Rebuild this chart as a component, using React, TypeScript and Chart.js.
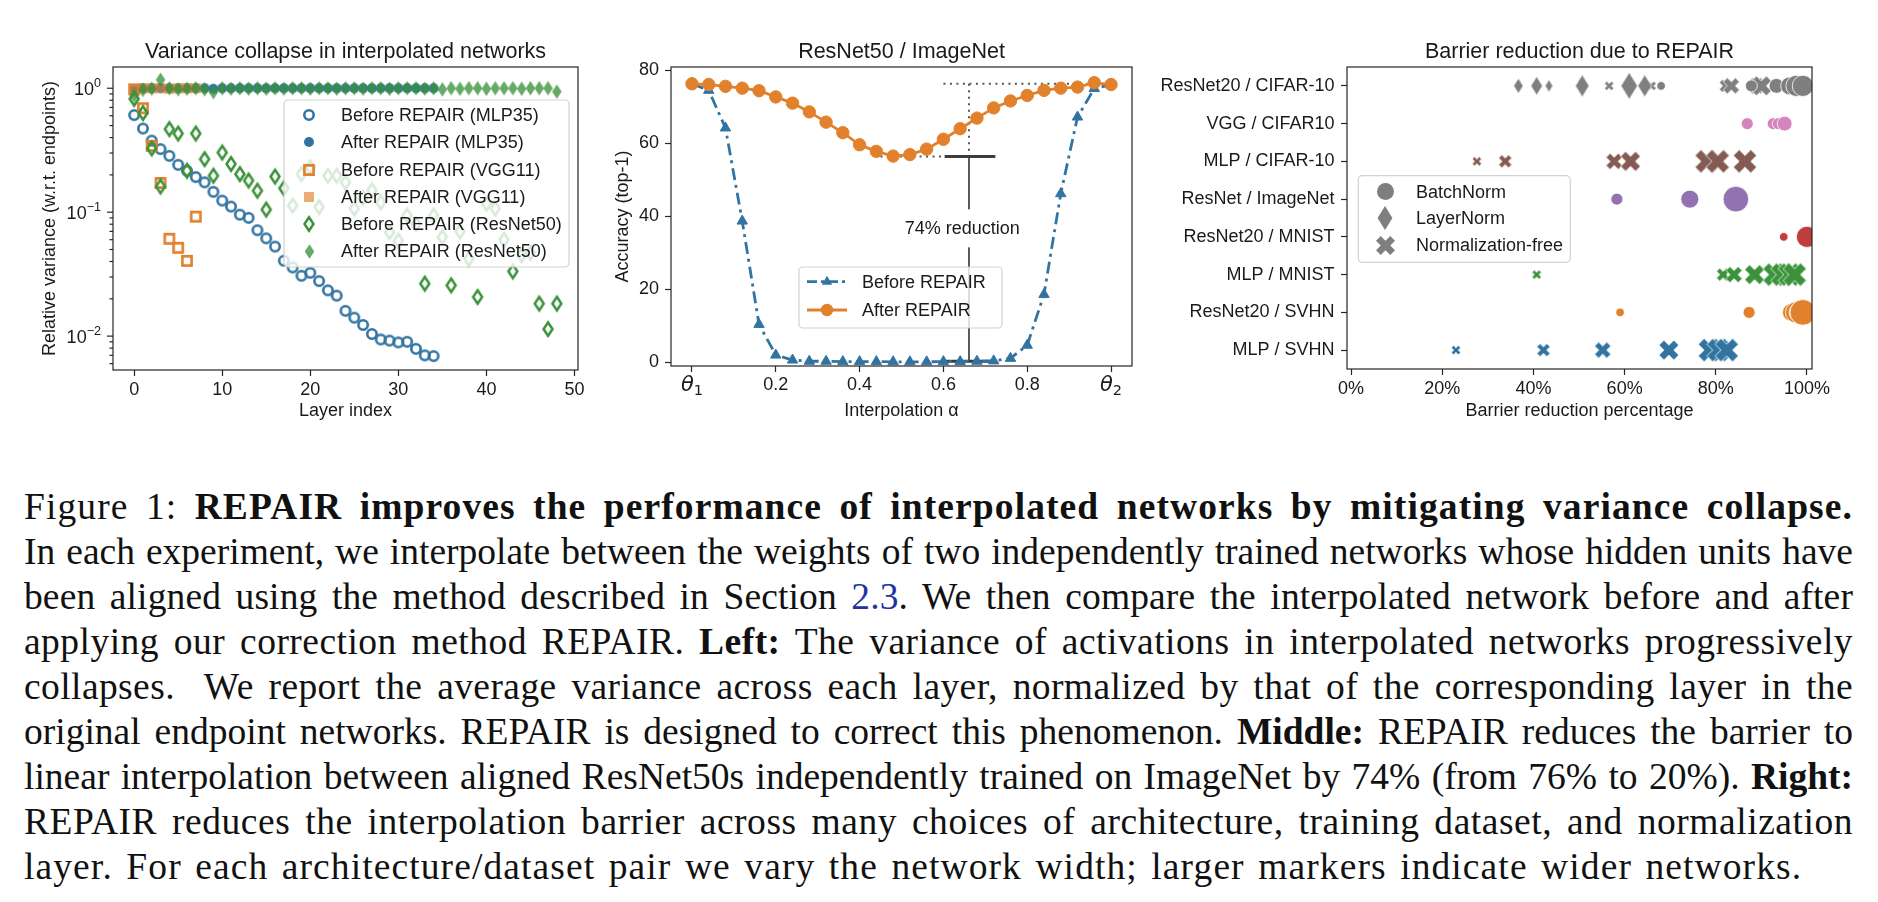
import React, { useEffect, useLayoutEffect, useRef } from "react";
import { Chart, registerables } from "chart.js";

Chart.register(...registerables);

const SANS = '"Liberation Sans", Arial, Helvetica, sans-serif';
const TXT = "#1a1a1a";
const SPINE = "#262626";
const BLUE = "#3274a1";
const ORANGE = "#e1812c";
const GREEN = "#3a923a";

// ---------------- Left panel: variance collapse ----------------
const mlpLayers = [0, 1, 2, 3, 4, 5, 6, 7, 8, 9, 10, 11, 12, 13, 14, 15, 16, 17, 18, 19, 20, 21, 22, 23, 24, 25, 26, 27, 28, 29, 30, 31, 32, 33, 34];
const mlpBefore = [
  0.607, 0.473, 0.378, 0.323, 0.285, 0.241, 0.216, 0.192, 0.174, 0.146,
  0.124, 0.111, 0.0955, 0.09, 0.0715, 0.0615, 0.0528, 0.0406, 0.0358, 0.0307,
  0.0324, 0.0278, 0.0234, 0.0212, 0.016, 0.0141, 0.0123, 0.0104, 0.0094, 0.0092,
  0.0089, 0.009, 0.0079, 0.007, 0.0069,
];
const mlpAfter = [
  0.97, 1.0, 1.0, 1.0, 1.0, 1.0, 1.0, 1.0, 1.0, 0.99,
  1.0, 1.0, 1.0, 1.0, 1.0, 1.0, 1.0, 1.0, 1.0, 1.0,
  1.0, 1.0, 1.0, 1.0, 1.0, 1.0, 1.0, 1.0, 1.0, 1.0,
  1.0, 1.0, 1.0, 1.0, 1.0,
];
const vggLayers = [0, 1, 2, 3, 4, 5, 6, 7];
const vggBefore = [0.98, 0.69, 0.343, 0.172, 0.061, 0.0516, 0.0405, 0.092];
const vggAfter = [0.98, 1.0, 1.0, 1.0, 0.99, 1.0, 1.0, 1.0];
const resnetLayers = [
  0, 1, 2, 3, 4, 5, 6, 7, 8, 9, 10, 11, 12, 13, 14, 15, 16, 17, 18, 19, 20, 21, 22, 23, 24,
  25, 26, 27, 28, 29, 30, 31, 32, 33, 34, 35, 36, 37, 38, 39, 40, 41, 42, 43, 44, 45, 46, 47, 48,
];
const resnetBefore = [
  0.82, 0.63, 0.327, 0.161, 0.468, 0.431, 0.216, 0.431, 0.268, 0.197,
  0.303, 0.245, 0.203, 0.18, 0.149, 0.105, 0.194, 0.156, 0.113, 0.203,
  0.23, 0.11, 0.197, 0.197, 0.174, 0.107, 0.13, 0.15, 0.12, 0.069,
  0.059, 0.094, 0.08, 0.0265, 0.094, 0.063, 0.0257, 0.07, 0.042, 0.0207,
  0.117, 0.107, 0.06, 0.0333, 0.045, 0.047, 0.0183, 0.0114, 0.0183,
];
const resnetAfter = [
  0.87, 0.97, 0.99, 1.17, 1.0, 0.98, 0.99, 1.0, 0.98, 0.93,
  1.0, 0.99, 1.0, 0.99, 1.0, 0.99, 1.0, 0.99, 1.0, 1.0,
  0.99, 1.0, 1.0, 0.99, 1.0, 1.0, 0.99, 1.0, 1.0, 0.99,
  1.0, 1.0, 1.0, 0.99, 1.0, 0.98, 1.0, 0.99, 1.0, 1.0,
  0.99, 1.0, 1.0, 1.0, 0.99, 1.0, 1.0, 1.0, 0.94,
];
const layerTicks = [0, 10, 20, 30, 40, 50];
const logMajorTicks = [0.01, 0.1, 1];
const logMajorLabels = [["10", "\u22122"], ["10", "\u22121"], ["10", "0"]];
const logMinorTicks = [
  0.006, 0.007, 0.008, 0.009,
  0.02, 0.03, 0.04, 0.05, 0.06, 0.07, 0.08, 0.09,
  0.2, 0.3, 0.4, 0.5, 0.6, 0.7, 0.8, 0.9,
];
const leftLegendLabels = [
  "Before REPAIR (MLP35)",
  "After REPAIR (MLP35)",
  "Before REPAIR (VGG11)",
  "After REPAIR (VGG11)",
  "Before REPAIR (ResNet50)",
  "After REPAIR (ResNet50)",
];

// ---------------- Middle panel: ResNet50 / ImageNet ----------------
const alphaSteps = [
  0, 0.04, 0.08, 0.12, 0.16, 0.2, 0.24, 0.28, 0.32, 0.36, 0.4, 0.44, 0.48,
  0.52, 0.56, 0.6, 0.64, 0.68, 0.72, 0.76, 0.8, 0.84, 0.88, 0.92, 0.96, 1.0,
];
const accBefore = [
  76.3, 74.5, 64.2, 38.7, 10.4, 2.0, 0.63, 0.3, 0.3, 0.2, 0.2, 0.2, 0.15,
  0.15, 0.15, 0.2, 0.2, 0.3, 0.4, 1.1, 4.7, 18.6, 46.2, 67.2, 75.0, 76.1,
];
const accAfter = [
  76.3, 76.1, 75.6, 75.1, 74.4, 72.7, 71.0, 68.6, 65.8, 62.9, 59.6, 57.8, 56.5,
  56.9, 58.4, 61.1, 64.0, 66.9, 69.7, 71.6, 73.1, 74.5, 75.1, 75.4, 76.6, 76.1,
];
const accTicks = [0, 20, 40, 60, 80];
const alphaTicks = [0, 0.2, 0.4, 0.6, 0.8, 1.0];
const endpointAcc = 76.3;
const repairMinAcc = 56.4;
const naiveMinAcc = 0.3;
const barrierAlpha = 0.661;
const barrierLabel = "74% reduction";

// ---------------- Right panel: barrier reduction ----------------
const rowLabels = [
  "ResNet20 / CIFAR-10",
  "VGG / CIFAR10",
  "MLP / CIFAR-10",
  "ResNet / ImageNet",
  "ResNet20 / MNIST",
  "MLP / MNIST",
  "ResNet20 / SVHN",
  "MLP / SVHN",
];
const rowColors = ["#7f7f7f", "#d684bd", "#845b53", "#9372b2", "#c03d3e", "#3a923a", "#e1812c", "#3274a1"];
// [barrier reduction %, width level]
const resnet20Cifar10BatchNorm = [[68.0, 1], [87.8, 2], [93.3, 3], [96.2, 4], [97.7, 5], [99.1, 5]];
const resnet20Cifar10LayerNorm = [[36.7, 3], [40.7, 4], [43.4, 2], [50.7, 5], [61.0, 6], [64.4, 5]];
const resnet20Cifar10NormFree = [[56.6, 1], [65.9, 1], [82.2, 2], [83.4, 3], [88.9, 3], [90.0, 4]];
const vggCifar10BatchNorm = [[86.9, 2], [92.6, 2], [93.7, 2], [95.1, 3]];
const mlpCifar10NormFree = [[27.6, 1], [33.8, 2], [57.7, 3], [61.3, 4], [78.0, 5], [80.4, 5], [86.4, 5]];
const resnetImageNetBatchNorm = [[58.3, 2], [74.3, 4], [84.4, 6]];
const resnet20MnistBatchNorm = [[94.9, 1], [100.0, 5]];
const mlpMnistNormFree = [[40.7, 1], [81.6, 2], [84.0, 3], [88.5, 4], [92.9, 5], [94.6, 5], [96.2, 5], [97.3, 5]];
const resnet20SvhnBatchNorm = [[59.0, 1], [87.3, 2], [96.6, 4], [97.6, 5], [98.4, 5], [99.1, 6]];
const mlpSvhnNormFree = [[23.0, 1], [42.2, 2], [55.2, 3], [69.7, 4], [78.7, 5], [80.6, 5], [82.4, 5]];
const pctTicks = [0, 20, 40, 60, 80, 100];
const rowTicks = [0, 1, 2, 3, 4, 5, 6, 7];
const normLegend = ["BatchNorm", "LayerNorm", "Normalization-free"];

// ---------------- helpers ----------------
const LEVEL_R = [0, 4.3, 6.0, 7.4, 9.0, 10.6, 12.8];
const markerCache = new Map<string, HTMLCanvasElement>();

function markerImg(kind: string, r: number, fill: string | null, stroke: string | null, lw: number, ratio = 0.62): HTMLCanvasElement {
  const key = [kind, r, fill, stroke, lw, ratio].join("|");
  const hit = markerCache.get(key);
  if (hit) return hit;
  const pad = Math.ceil(lw) + 2;
  const size = Math.ceil(2 * r + 2 * pad);
  const c = document.createElement("canvas");
  c.width = size;
  c.height = size;
  const g = c.getContext("2d")!;
  const cx = size / 2;
  const cy = size / 2;
  g.beginPath();
  if (kind === "circle") {
    g.arc(cx, cy, r, 0, Math.PI * 2);
  } else if (kind === "square") {
    g.rect(cx - r, cy - r, 2 * r, 2 * r);
  } else if (kind === "diamond") {
    const w = r * ratio;
    g.moveTo(cx, cy - r);
    g.lineTo(cx + w, cy);
    g.lineTo(cx, cy + r);
    g.lineTo(cx - w, cy);
    g.closePath();
  } else {
    const pts = [[-1, -2], [0, -1], [1, -2], [2, -1], [1, 0], [2, 1], [1, 2], [0, 1], [-1, 2], [-2, 1], [-1, 0], [-2, -1]];
    pts.forEach(([px, py], i) => {
      const X = cx + (px * r) / 2;
      const Y = cy + (py * r) / 2;
      if (i === 0) g.moveTo(X, Y);
      else g.lineTo(X, Y);
    });
    g.closePath();
  }
  if (fill) {
    g.fillStyle = fill;
    g.fill();
  }
  if (stroke && lw > 0) {
    g.strokeStyle = stroke;
    g.lineWidth = lw;
    g.lineJoin = "miter";
    g.stroke();
  }
  markerCache.set(key, c);
  return c;
}

function legendBox(ctx: any, x: number, y: number, w: number, h: number) {
  ctx.save();
  ctx.beginPath();
  if (ctx.roundRect) ctx.roundRect(x, y, w, h, 4);
  else ctx.rect(x, y, w, h);
  ctx.fillStyle = "rgba(255,255,255,0.8)";
  ctx.fill();
  ctx.strokeStyle = "rgba(204,204,204,0.9)";
  ctx.lineWidth = 1.2;
  ctx.stroke();
  ctx.restore();
}

function drawFrameAndTitle(chart: any, title: string) {
  const { ctx, chartArea: a } = chart;
  ctx.save();
  ctx.strokeStyle = SPINE;
  ctx.lineWidth = 1.2;
  ctx.strokeRect(a.left, a.top, a.right - a.left, a.bottom - a.top);
  ctx.font = `21.5px ${SANS}`;
  ctx.fillStyle = TXT;
  ctx.textAlign = "center";
  ctx.textBaseline = "middle";
  ctx.fillText(title, (a.left + a.right) / 2, 52);
  ctx.restore();
}

const tickFont = { family: SANS, size: 18 };
const axisGrid = {
  display: true,
  drawOnChartArea: false,
  drawTicks: true,
  tickLength: 6,
  tickColor: SPINE,
  tickWidth: 1.2,
  color: SPINE,
};
const toXY = (xs: number[], ys: number[]) => xs.map((x, i) => ({ x, y: ys[i] }));
const setTicks = (vals: number[]) => (s: any) => {
  s.ticks = vals.map((v) => ({ value: v }));
};

// ---------------- Left config ----------------
function leftConfig(): any {
  const mOpenCircle = markerImg("circle", 4.7, null, BLUE, 2.6);
  const mFillCircle = markerImg("circle", 5.0, BLUE, null, 0);
  const mOpenSquare = markerImg("square", 4.6, null, ORANGE, 2.6);
  const mFillSquare = markerImg("square", 5.0, "rgba(225,129,44,0.65)", null, 0);
  const mOpenDiamond = markerImg("diamond", 6.8, null, GREEN, 2.5, 0.66);
  const mFillDiamond = markerImg("diamond", 7.2, "rgba(58,146,58,0.78)", null, 0, 0.66);
  const legendMarkers = [mOpenCircle, mFillCircle, mOpenSquare, mFillSquare, mOpenDiamond, mFillDiamond];

  const plugin = {
    id: "leftDecor",
    afterDatasetsDraw(chart: any) {
      const { ctx, chartArea: a, scales } = chart;
      const y = scales.y;
      drawFrameAndTitle(chart, "Variance collapse in interpolated networks");
      ctx.save();
      ctx.strokeStyle = SPINE;
      ctx.lineWidth = 1.2;
      for (const v of logMinorTicks) {
        const p = y.getPixelForValue(v);
        if (p < a.top || p > a.bottom) continue;
        ctx.beginPath();
        ctx.moveTo(a.left - 3.5, p);
        ctx.lineTo(a.left, p);
        ctx.stroke();
      }
      logMajorTicks.forEach((v, i) => {
        const p = y.getPixelForValue(v);
        ctx.beginPath();
        ctx.moveTo(a.left - 6, p);
        ctx.lineTo(a.left, p);
        ctx.stroke();
        const [base, exp] = logMajorLabels[i];
        ctx.font = `18px ${SANS}`;
        const wb = ctx.measureText(base).width;
        ctx.font = `12.6px ${SANS}`;
        const we = ctx.measureText(exp).width;
        const right = a.left - 12;
        ctx.fillStyle = TXT;
        ctx.textAlign = "left";
        ctx.textBaseline = "alphabetic";
        ctx.font = `18px ${SANS}`;
        ctx.fillText(base, right - we - wb, p + 6.8);
        ctx.font = `12.6px ${SANS}`;
        ctx.fillText(exp, right - we, p - 1.5);
      });
      ctx.restore();

      legendBox(ctx, 284, 100, 285, 167);
      ctx.save();
      ctx.font = `18px ${SANS}`;
      ctx.fillStyle = TXT;
      ctx.textAlign = "left";
      ctx.textBaseline = "middle";
      leftLegendLabels.forEach((lab, i) => {
        const yy = 115 + i * 27.3;
        const m = legendMarkers[i];
        ctx.drawImage(m, Math.round(309 - m.width / 2), Math.round(yy - m.height / 2));
        ctx.fillText(lab, 341, yy + 1);
      });
      ctx.restore();
    },
  };

  return {
    type: "scatter",
    data: {
      datasets: [
        { label: leftLegendLabels[0], data: toXY(mlpLayers, mlpBefore), pointStyle: mOpenCircle, pointRadius: 4, order: 6 },
        { label: leftLegendLabels[1], data: toXY(mlpLayers, mlpAfter), pointStyle: mFillCircle, pointRadius: 4, order: 5 },
        { label: leftLegendLabels[2], data: toXY(vggLayers, vggBefore), pointStyle: mOpenSquare, pointRadius: 4, order: 4 },
        { label: leftLegendLabels[3], data: toXY(vggLayers, vggAfter), pointStyle: mFillSquare, pointRadius: 4, order: 3 },
        { label: leftLegendLabels[4], data: toXY(resnetLayers, resnetBefore), pointStyle: mOpenDiamond, pointRadius: 4, order: 2 },
        { label: leftLegendLabels[5], data: toXY(resnetLayers, resnetAfter), pointStyle: mFillDiamond, pointRadius: 4, order: 1 },
      ],
    },
    options: {
      responsive: false,
      animation: false,
      devicePixelRatio: 1,
      events: [],
      layout: { autoPadding: false, padding: { left: 0, top: 67, right: 22, bottom: 0 } },
      plugins: { legend: { display: false }, tooltip: { enabled: false } },
      scales: {
        x: {
          type: "linear",
          min: -2.4,
          max: 50.4,
          bounds: "data",
          afterBuildTicks: setTicks(layerTicks),
          afterFit: (s: any) => {
            s.height = 70;
          },
          ticks: { font: tickFont, color: TXT, padding: 3, maxRotation: 0, autoSkip: false },
          grid: axisGrid,
          border: { display: false },
          title: { display: true, text: "Layer index", font: tickFont, color: TXT, padding: { top: 0, bottom: 18 } },
        },
        y: {
          type: "logarithmic",
          min: 0.00533,
          max: 1.484,
          bounds: "data",
          afterFit: (s: any) => {
            s.width = 113;
          },
          ticks: { display: false },
          grid: { display: false },
          border: { display: false },
          title: {
            display: true,
            text: "Relative variance (w.r.t. endpoints)",
            font: tickFont,
            color: TXT,
            padding: { top: 39, bottom: 0 },
          },
        },
      },
    },
    plugins: [plugin],
  };
}

// ---------------- Middle config ----------------
function midConfig(): any {
  const plugin = {
    id: "midDecor",
    beforeDatasetsDraw(chart: any) {
      const { ctx, scales } = chart;
      const X = (v: number) => scales.x.getPixelForValue(v);
      const Y = (v: number) => scales.y.getPixelForValue(v);
      ctx.save();
      ctx.setLineDash([2, 4.5]);
      ctx.strokeStyle = "#555555";
      ctx.lineWidth = 2;
      ctx.beginPath();
      ctx.moveTo(X(0.6), Y(endpointAcc));
      ctx.lineTo(X(1.0), Y(endpointAcc));
      ctx.moveTo(X(barrierAlpha), Y(endpointAcc));
      ctx.lineTo(X(barrierAlpha), Y(repairMinAcc));
      ctx.moveTo(X(0.45), Y(repairMinAcc));
      ctx.lineTo(X(0.6), Y(repairMinAcc));
      ctx.stroke();
      ctx.setLineDash([]);
      ctx.strokeStyle = "#4a4a4a";
      ctx.lineWidth = 1.8;
      ctx.beginPath();
      ctx.moveTo(X(barrierAlpha), Y(repairMinAcc));
      ctx.lineTo(X(barrierAlpha), Y(naiveMinAcc));
      ctx.stroke();
      ctx.strokeStyle = "#3d3d3d";
      ctx.lineWidth = 3;
      ctx.beginPath();
      ctx.moveTo(X(barrierAlpha - 0.058), Y(repairMinAcc));
      ctx.lineTo(X(barrierAlpha + 0.063), Y(repairMinAcc));
      ctx.moveTo(X(barrierAlpha - 0.058), Y(naiveMinAcc));
      ctx.lineTo(X(barrierAlpha + 0.063), Y(naiveMinAcc));
      ctx.stroke();
      ctx.font = `18px ${SANS}`;
      const tw = ctx.measureText(barrierLabel).width;
      const cx = X(0.645);
      const cy = Y(36.7);
      ctx.fillStyle = "#ffffff";
      ctx.fillRect(cx - tw / 2 - 6, cy - 19, tw + 12, 38);
      ctx.fillStyle = TXT;
      ctx.textAlign = "center";
      ctx.textBaseline = "middle";
      ctx.fillText(barrierLabel, cx, cy + 1);
      ctx.restore();
    },
    afterDatasetsDraw(chart: any) {
      const { ctx, scales } = chart;
      drawFrameAndTitle(chart, "ResNet50 / ImageNet");
      ctx.save();
      ctx.fillStyle = TXT;
      ctx.textAlign = "left";
      ctx.textBaseline = "alphabetic";
      [[0, "1"], [1, "2"]].forEach(([v, sub]: any) => {
        const px = scales.x.getPixelForValue(v);
        ctx.font = `italic 21px "DejaVu Sans", ${SANS}`;
        const wt = ctx.measureText("\u03b8").width;
        ctx.font = `14.5px "DejaVu Sans", ${SANS}`;
        const ws = ctx.measureText(sub).width;
        const start = px - (wt + ws) / 2;
        ctx.font = `italic 21px "DejaVu Sans", ${SANS}`;
        ctx.fillText("\u03b8", start, 391);
        ctx.font = `14.5px "DejaVu Sans", ${SANS}`;
        ctx.fillText(sub, start + wt, 395);
      });
      ctx.restore();
      legendBox(ctx, 199, 267, 203, 61);
      ctx.save();
      const rows = [
        { y: 281.7, color: BLUE, dash: [10, 4, 3, 4], label: "Before REPAIR", marker: "triangle" },
        { y: 310, color: ORANGE, dash: [], label: "After REPAIR", marker: "circle" },
      ];
      rows.forEach((r) => {
        ctx.strokeStyle = r.color;
        ctx.lineWidth = 2.8;
        ctx.setLineDash(r.dash);
        ctx.beginPath();
        ctx.moveTo(207, r.y);
        ctx.lineTo(247, r.y);
        ctx.stroke();
        ctx.setLineDash([]);
        ctx.fillStyle = r.color;
        ctx.beginPath();
        if (r.marker === "circle") {
          ctx.arc(227, r.y, 6.2, 0, Math.PI * 2);
        } else {
          ctx.moveTo(227, r.y - 6);
          ctx.lineTo(227 + 5.2, r.y + 3);
          ctx.lineTo(227 - 5.2, r.y + 3);
          ctx.closePath();
        }
        ctx.fill();
        ctx.font = `18px ${SANS}`;
        ctx.fillStyle = TXT;
        ctx.textAlign = "left";
        ctx.textBaseline = "middle";
        ctx.fillText(r.label, 262, r.y + 1);
      });
      ctx.restore();
    },
  };

  return {
    type: "scatter",
    data: {
      datasets: [
        {
          label: "Before REPAIR",
          data: toXY(alphaSteps, accBefore),
          showLine: true,
          borderColor: BLUE,
          borderWidth: 2.8,
          borderDash: [12, 5, 3, 5],
          pointStyle: "triangle",
          pointRadius: 6,
          pointBackgroundColor: BLUE,
          pointBorderColor: BLUE,
          pointBorderWidth: 1,
          order: 2,
        },
        {
          label: "After REPAIR",
          data: toXY(alphaSteps, accAfter),
          showLine: true,
          borderColor: ORANGE,
          borderWidth: 2.8,
          pointStyle: "circle",
          pointRadius: 6.2,
          pointBackgroundColor: ORANGE,
          pointBorderColor: ORANGE,
          pointBorderWidth: 1,
          order: 1,
        },
      ],
    },
    options: {
      responsive: false,
      animation: false,
      devicePixelRatio: 1,
      events: [],
      layout: { autoPadding: false, padding: { left: 0, top: 67, right: 28, bottom: 0 } },
      plugins: { legend: { display: false }, tooltip: { enabled: false } },
      scales: {
        x: {
          type: "linear",
          min: -0.05,
          max: 1.05,
          bounds: "data",
          afterBuildTicks: setTicks(alphaTicks),
          afterFit: (s: any) => {
            s.height = 74;
          },
          ticks: {
            font: tickFont,
            color: TXT,
            padding: 2,
            maxRotation: 0,
            autoSkip: false,
            callback: (v: any) => (v === 0 || v === 1 ? "" : Number(v).toFixed(1)),
          },
          grid: axisGrid,
          border: { display: false },
          title: { display: true, text: "Interpolation \u03b1", font: tickFont, color: TXT, padding: { top: 0, bottom: 18 } },
        },
        y: {
          type: "linear",
          min: -1.0,
          max: 80.9,
          bounds: "data",
          afterBuildTicks: setTicks(accTicks),
          afterFit: (s: any) => {
            s.width = 71;
          },
          ticks: { font: tickFont, color: TXT, padding: 6, autoSkip: false },
          grid: axisGrid,
          border: { display: false },
          title: { display: true, text: "Accuracy (top-1)", font: tickFont, color: TXT, padding: { top: 12, bottom: 0 } },
        },
      },
    },
    plugins: [plugin],
  };
}

// ---------------- Right config ----------------
function rightConfig(): any {
  const groups = [
    { row: 0, kind: "circle", pts: resnet20Cifar10BatchNorm },
    { row: 0, kind: "diamond", pts: resnet20Cifar10LayerNorm },
    { row: 0, kind: "x", pts: resnet20Cifar10NormFree },
    { row: 1, kind: "circle", pts: vggCifar10BatchNorm },
    { row: 2, kind: "x", pts: mlpCifar10NormFree },
    { row: 3, kind: "circle", pts: resnetImageNetBatchNorm },
    { row: 4, kind: "circle", pts: resnet20MnistBatchNorm },
    { row: 5, kind: "x", pts: mlpMnistNormFree },
    { row: 6, kind: "circle", pts: resnet20SvhnBatchNorm },
    { row: 7, kind: "x", pts: mlpSvhnNormFree },
  ];
  const sizeFor = (kind: string, lvl: number) => (kind === "diamond" ? LEVEL_R[lvl] * 1.05 : LEVEL_R[lvl] * 1.1);

  const plugin = {
    id: "rightDecor",
    afterDatasetsDraw(chart: any) {
      const { ctx, chartArea: a } = chart;
      drawFrameAndTitle(chart, "Barrier reduction due to REPAIR");
      const bx = a.left + 11.3;
      const by = a.top + 108.7;
      legendBox(ctx, bx, by, 212, 86.6);
      ctx.save();
      const gray = "#7f7f7f";
      const ms = [
        markerImg("circle", 8.5, gray, null, 0),
        markerImg("diamond", 12, gray, null, 0),
        markerImg("x", 9.5, gray, null, 0),
      ];
      ctx.font = `18px ${SANS}`;
      ctx.fillStyle = TXT;
      ctx.textAlign = "left";
      ctx.textBaseline = "middle";
      normLegend.forEach((lab, i) => {
        const yy = by + 16 + i * 26.7;
        const m = ms[i];
        ctx.drawImage(m, Math.round(bx + 26.7 - m.width / 2), Math.round(yy - m.height / 2));
        ctx.fillText(lab, bx + 57.7, yy + 1);
      });
      ctx.restore();
    },
  };

  return {
    type: "scatter",
    data: {
      datasets: groups.map((g) => ({
        data: g.pts.map(([p, w]) => ({ x: p, y: g.row, w })),
        pointStyle: (c: any) =>
          g.kind === "circle" ? "circle" : markerImg(g.kind, sizeFor(g.kind, c.raw ? c.raw.w : 1), rowColors[g.row], "#ffffff", 0.8),
        pointRadius: (c: any) => LEVEL_R[c.raw ? c.raw.w : 1],
        pointBackgroundColor: rowColors[g.row],
        pointBorderColor: "#ffffff",
        pointBorderWidth: 0.8,
        clip: 0,
      })),
    },
    options: {
      responsive: false,
      animation: false,
      devicePixelRatio: 1,
      events: [],
      layout: { autoPadding: false, padding: { left: 0, top: 67, right: 66, bottom: 0 } },
      plugins: { legend: { display: false }, tooltip: { enabled: false } },
      scales: {
        x: {
          type: "linear",
          min: -0.9,
          max: 101.1,
          bounds: "data",
          afterBuildTicks: setTicks(pctTicks),
          afterFit: (s: any) => {
            s.height = 71;
          },
          ticks: {
            font: tickFont,
            color: TXT,
            padding: 3,
            maxRotation: 0,
            autoSkip: false,
            callback: (v: any) => `${v}%`,
          },
          grid: axisGrid,
          border: { display: false },
          title: {
            display: true,
            text: "Barrier reduction percentage",
            font: tickFont,
            color: TXT,
            padding: { top: 0, bottom: 18 },
          },
        },
        y: {
          type: "linear",
          min: -0.5,
          max: 7.5,
          reverse: true,
          bounds: "data",
          afterBuildTicks: setTicks(rowTicks),
          afterFit: (s: any) => {
            s.width = 187;
          },
          ticks: {
            font: tickFont,
            color: TXT,
            padding: 6.5,
            autoSkip: false,
            callback: (v: any) => rowLabels[v] ?? "",
          },
          grid: axisGrid,
          border: { display: false },
        },
      },
    },
    plugins: [plugin],
  };
}

// ---------------- Caption ----------------
type Seg = { t: string; b?: boolean; link?: boolean };
const captionLines: Seg[][] = [
  [{ t: "Figure 1: " }, { t: "REPAIR improves the performance of interpolated networks by mitigating variance collapse.", b: true }],
  [{ t: "In each experiment, we interpolate between the weights of two independently trained networks whose hidden units have" }],
  [
    { t: "been aligned using the method described in Section " },
    { t: "2.3", link: true },
    { t: ". We then compare the interpolated network before and after" },
  ],
  [
    { t: "applying our correction method REPAIR. " },
    { t: "Left:", b: true },
    { t: " The variance of activations in interpolated networks progressively" },
  ],
  [{ t: "collapses.  We report the average variance across each layer, normalized by that of the corresponding layer in the" }],
  [
    { t: "original endpoint networks. REPAIR is designed to correct this phenomenon. " },
    { t: "Middle:", b: true },
    { t: " REPAIR reduces the barrier to" },
  ],
  [
    { t: "linear interpolation between aligned ResNet50s independently trained on ImageNet by 74% (from 76% to 20%). " },
    { t: "Right:", b: true },
  ],
  [{ t: "REPAIR reduces the interpolation barrier across many choices of architecture, training dataset, and normalization" }],
  [{ t: "layer. For each architecture/dataset pair we vary the network width; larger markers indicate wider networks." }],
];
const CAPTION_WIDTH = 1829;
const MAX_LETTER = 1.1;
const MIN_WORD_GAP = 5;

export default function App() {
  const r1 = useRef<HTMLCanvasElement>(null);
  const r2 = useRef<HTMLCanvasElement>(null);
  const r3 = useRef<HTMLCanvasElement>(null);
  const lineRefs = useRef<(HTMLSpanElement | null)[]>([]);

  useLayoutEffect(() => {
    lineRefs.current.forEach((el, i) => {
      if (!el) return;
      el.style.wordSpacing = "0px";
      el.style.letterSpacing = "0px";
      const text = el.textContent || "";
      const n = text.length;
      const spaces = (text.match(/ /g) || []).length;
      if (i === captionLines.length - 1) {
        el.style.letterSpacing = `${MAX_LETTER}px`;
        el.style.wordSpacing = "3px";
        return;
      }
      const w0 = el.getBoundingClientRect().width;
      const extra = CAPTION_WIDTH - w0;
      const ls = Math.max(0, Math.min(MAX_LETTER, (extra - spaces * MIN_WORD_GAP) / n));
      el.style.letterSpacing = `${ls}px`;
      const w1 = el.getBoundingClientRect().width;
      if (spaces > 0) el.style.wordSpacing = `${(CAPTION_WIDTH - w1) / spaces}px`;
    });
  }, []);

  useEffect(() => {
    const charts = [
      new Chart(r1.current as HTMLCanvasElement, leftConfig()),
      new Chart(r2.current as HTMLCanvasElement, midConfig()),
      new Chart(r3.current as HTMLCanvasElement, rightConfig()),
    ];
    return () => charts.forEach((c) => c.destroy());
  }, []);

  return (
    <div style={{ position: "absolute", left: 0, top: 0, width: 1878, height: 902, background: "#ffffff", overflow: "hidden" }}>
      <canvas ref={r1} width={600} height={440} style={{ position: "absolute", left: 0, top: 0 }} />
      <canvas ref={r2} width={560} height={440} style={{ position: "absolute", left: 600, top: 0 }} />
      <canvas ref={r3} width={718} height={440} style={{ position: "absolute", left: 1160, top: 0 }} />
      <div
        style={{
          position: "absolute",
          left: 24,
          top: 484,
          width: CAPTION_WIDTH + 40,
          fontFamily: '"Liberation Serif", "Times New Roman", serif',
          fontSize: 37.5,
          color: "#111111",
        }}
      >
        {captionLines.map((line, i) => (
          <div key={i} style={{ height: 45, lineHeight: "45px", whiteSpace: "pre" }}>
            <span ref={(el) => { lineRefs.current[i] = el; }}>
              {line.map((s, j) => (
                <span key={j} style={{ fontWeight: s.b ? 700 : 400, color: s.link ? "#2233a0" : undefined }}>
                  {s.t}
                </span>
              ))}
            </span>
          </div>
        ))}
      </div>
    </div>
  );
}
